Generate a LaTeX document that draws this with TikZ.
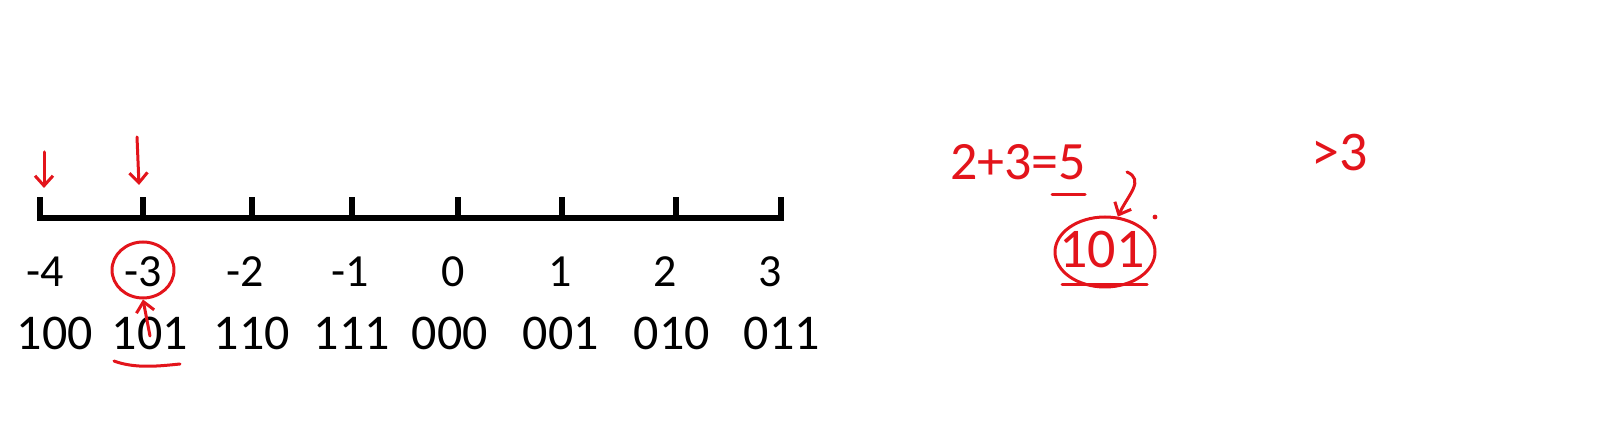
\documentclass[tikz,border=0pt]{standalone}
\usepackage{fontspec}
\setmainfont{Carlito}
\usepackage{xcolor}
\definecolor{Ink}{HTML}{E3141B}
\colorlet{ink}{Ink}
\usetikzlibrary{arrows.meta,positioning,shapes.geometric}

\begin{document}
\begin{tikzpicture}[x=0.5pt,y=-0.5pt,pen/.style={draw=ink,line width=1.5pt,line cap=round,line join=round},
  hand/.style={-{Straight Barb[length=5pt,width=9pt]}},
  num/.style={font=\fontsize{23}{26}\selectfont,inner sep=0pt},
  bin/.style={font=\fontsize{25}{28}\selectfont,inner sep=0pt},
  scrawl/.style={text=ink,inner sep=0pt}]
\useasboundingbox (0,0) rectangle (1608,421);
% number line
\foreach \x/\lx/\v/\bx/\b/\n in {40/45/-4/55/100/0,143/143/-3/150/101/1,252/245/-2/252/110/2,352/350/-1/352/111/3,458/453/0/450/000/4,562/560/1/561/001/5,676/665/2/672/010/6,781/770/3/782/011/7}{
  \coordinate (t\n) at (\x,200);
  \draw[line width=2.6pt,line cap=rect] (\x,218) -- (t\n);
  \node[num] (v\n) at (\lx,272) {\v};
  \node[bin] (b\n) at (\bx,333) {\b};
}
\draw[line width=2.6pt,line cap=rect] (40,218) -- (781,218);
% red marks
\coordinate (p0) at (44,152);\coordinate (q0) at (44,188);
\coordinate (p1) at (137,137);\coordinate (q1) at (139,185);
\draw[pen,hand] (p0) -- (q0);\draw[pen,hand] (p1) -- (q1);
\node[pen,ellipse,minimum width=31pt,minimum height=28pt] (ring) at (143,270) {};
\coordinate (up) at (150,336);
\draw[pen,hand] (up) -- (ring.south);
\draw[pen] (114,361) .. controls (135,369) and (160,366) .. (180,364);
% right side
\node[scrawl,font=\fontsize{27}{30}\selectfont] (eq) at (1018,162) {2+3=5};
\draw[pen] (1052,195) -- (1085,195);
\node[pen,ellipse,minimum width=50pt,minimum height=35pt,inner sep=0pt] (res) at (1105,252) {};
\node[scrawl,font=\fontsize{28}{30}\selectfont] (rv) at (1102,250) {101};
\draw[pen] (1062,285) -- (1147,285);
\coordinate (cur) at (1127,172);
\draw[pen,hand] (cur) .. controls (1145,180) and (1128,195) .. (res.70);
\fill[ink] (1155,217) circle (1.2pt);
\node[scrawl,font=\fontsize{28}{30}\selectfont] (gt) at (1340,153) {>3};
\end{tikzpicture}
\end{document}
